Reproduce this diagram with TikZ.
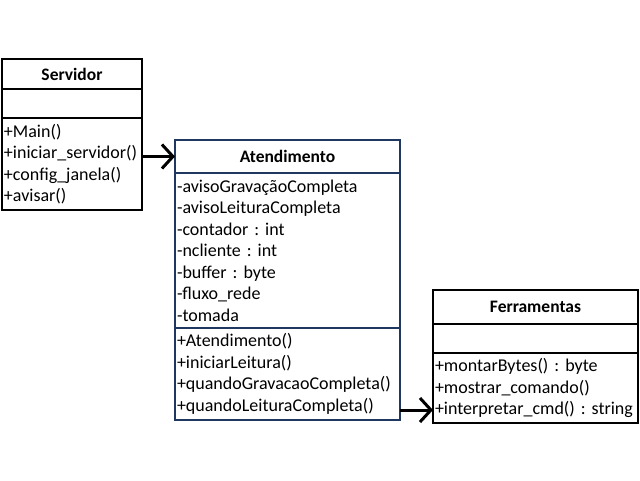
\documentclass[tikz,border=0pt]{standalone}
\usepackage{fontspec}
\setmainfont{Carlito}
\frenchspacing
\definecolor{uml_blue}{RGB}{31, 56, 96}
\usetikzlibrary{arrows.meta, positioning}

\begin{document}
\begin{tikzpicture}[
        x=1pt, y=-1pt,
        part/.style={draw=black, line width=2pt, fill=white, outer sep=0pt,
                     inner xsep=2pt, inner ysep=1pt, align=left,
                     font=\fontsize{18}{21.5}\selectfont},
        title/.style={part, align=center, font=\bfseries\fontsize{17.5}{20}\selectfont},
        bluepart/.style={draw=uml_blue, line width=2.8pt},
        arr/.style={-{Straight Barb[length=11pt, width=24pt]}, line width=3pt, black},
      ]
        \useasboundingbox (0,0) rectangle (640,480);

        % Servidor
        \node[title, minimum width=140pt, minimum height=30pt, anchor=north west] (serv) at (2,59) {Servidor};
        \node[part, below=0pt of serv, minimum width=140pt, minimum height=29pt] (servA) {};
        \node[part, below=0pt of servA, minimum height=92pt, text width=136pt] (servM)
            {+Main()\\+iniciar\_servidor()\\+config\_janela()\\+avisar()};

        % Atendimento
        \node[title, bluepart, minimum width=225pt, minimum height=33pt, anchor=north west] (atend) at (175,140) {Atendimento};
        \node[part, bluepart, below=0pt of atend, minimum height=155pt, text width=221pt] (atendA)
            {-avisoGravaçãoCompleta\\-avisoLeituraCompleta\\-contador : int\\-ncliente : int\\-buffer : byte\\-fluxo\_rede\\-tomada};
        \node[part, bluepart, below=0pt of atendA, minimum height=92pt, text width=221pt] (atendM)
            {+Atendimento()\\+iniciarLeitura()\\+quandoGravacaoCompleta()\\+quandoLeituraCompleta()};

        % Ferramentas
        \node[title, minimum width=205pt, minimum height=34pt, anchor=north west] (ferr) at (433,290) {Ferramentas};
        \node[part, below=0pt of ferr, minimum width=205pt, minimum height=29pt] (ferrA) {};
        \node[part, below=0pt of ferrA, minimum height=70pt, text width=201pt] (ferrM)
            {+montarBytes() : byte\\+mostrar\_comando()\\+interpretar\_cmd() : string};

        \draw[arr] (atend.west -| servM.east) -- (atend.west);
        \draw[arr] ([yshift=10pt]atendM.south east) -- ([yshift=10pt]atendM.south east -| ferrM.west);
      \end{tikzpicture}
\end{document}
